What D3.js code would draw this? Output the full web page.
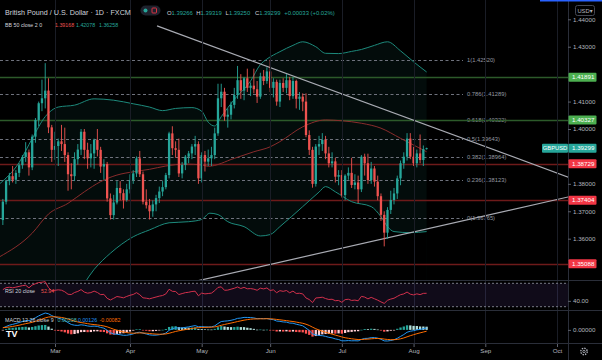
<!DOCTYPE html>
<html><head><meta charset="utf-8">
<script src="https://cdn.jsdelivr.net/npm/d3@7"></script>
<style>html,body{margin:0;padding:0;background:#000;}svg{display:block;}text{font-family:"Liberation Sans","DejaVu Sans",Arial,sans-serif;}</style>
</head><body><svg id="c" width="602" height="360"></svg>
<script>
// ---------------- DATA ----------------
const firstDay = "2021-02-05";   // first candle shown
const lastAxisDay = "2021-10-29";
const opens = [1.3668,1.3735,1.3810,1.3828,1.3815,1.3840,1.3868,1.3898,1.3915,1.3860,1.3972,1.4033,1.4094,1.4112,1.4140,1.4006,
1.3924,1.3938,1.3955,1.3945,1.3905,1.3835,1.3828,1.3890,1.3925,1.3990,1.3924,1.3893,1.3911,1.3960,1.3924,1.3863,1.3872,1.3747,1.3686,1.3732,1.3785,1.3766,1.3741,
1.3780,1.3814,1.3838,1.3893,1.3835,1.3735,1.3722,1.3700,1.3725,1.3748,1.3772,1.3788,1.3832,1.3984,1.3930,1.3924,1.3838,1.3869,1.3899,1.3911,1.3936,1.3945,
1.3820,1.3905,1.3881,1.3893,1.3905,1.3984,1.4112,1.4136,1.4045,1.4052,1.4088,1.4124,1.4178,1.4140,1.4185,1.4150,1.4158,1.4145,1.4118,1.4192,1.4175,
1.4210,1.4150,1.4172,1.4100,1.4168,1.4150,1.4178,1.4120,1.4175,1.4110,1.4118,1.4100,1.3978,1.3924,1.3800,1.3936,1.3945,1.3960,1.3911,1.3875,1.3882,1.3826,
1.3832,1.3759,1.3830,1.3840,1.3796,1.3805,1.3780,1.3899,1.3875,1.3814,1.3856,1.3808,1.3755,1.3687,1.3622,1.3705,1.3741,1.3765,1.3820,1.3875,1.3899,1.3965,
1.3899,1.3875,1.3911,1.3887,1.39266];
const highs = [1.3745,1.3815,1.3840,1.3865,1.3850,1.3875,1.3905,1.3952,1.3925,1.3980,1.4040,1.4100,1.4180,1.4240,1.4185,1.4015,
1.3990,1.3965,1.4015,1.4005,1.3915,1.3875,1.3915,1.3945,1.4000,1.4000,1.3950,1.3945,1.3965,1.4000,1.3935,1.3890,1.3880,1.3765,1.3760,1.3810,1.3810,1.3780,1.3800,
1.3835,1.3850,1.3900,1.3920,1.3845,1.3780,1.3745,1.3740,1.3760,1.3790,1.3810,1.3840,1.3990,1.4010,1.3955,1.3965,1.3880,1.3905,1.3920,1.3945,1.3975,1.3955,
1.3915,1.3920,1.3925,1.3935,1.4005,1.4165,1.4165,1.4150,1.4075,1.4100,1.4150,1.4230,1.4200,1.4190,1.4220,1.4170,1.4220,1.4175,1.4205,1.4215,1.4225,
1.4252,1.4185,1.4180,1.4180,1.4185,1.4200,1.4190,1.4190,1.4180,1.4135,1.4130,1.4130,1.3995,1.3935,1.3945,1.3975,1.3985,1.3975,1.3935,1.3915,1.3895,1.3850,
1.3850,1.3835,1.3860,1.3895,1.3835,1.3830,1.3905,1.3910,1.3910,1.3880,1.3865,1.3830,1.3765,1.3700,1.3715,1.3775,1.3785,1.3830,1.3885,1.3915,1.3985,1.3985,
1.3935,1.3925,1.3980,1.3940,1.39319];
const lows = [1.3650,1.3725,1.3795,1.3805,1.3800,1.3825,1.3855,1.3880,1.3830,1.3850,1.3950,1.4010,1.4065,1.4075,1.3985,1.3880,
1.3888,1.3865,1.3920,1.3880,1.3775,1.3780,1.3810,1.3870,1.3905,1.3890,1.3855,1.3860,1.3855,1.3900,1.3840,1.3815,1.3735,1.3670,1.3670,1.3725,1.3740,1.3710,1.3735,
1.3765,1.3800,1.3825,1.3825,1.3725,1.3710,1.3670,1.3680,1.3700,1.3730,1.3755,1.3780,1.3820,1.3905,1.3895,1.3825,1.3820,1.3850,1.3875,1.3890,1.3905,1.3800,
1.3805,1.3845,1.3865,1.3865,1.3890,1.3975,1.4080,1.4030,1.4005,1.4035,1.4075,1.4110,1.4110,1.4105,1.4135,1.4120,1.4130,1.4095,1.4110,1.4160,1.4165,
1.4135,1.4115,1.4085,1.4080,1.4135,1.4130,1.4105,1.4110,1.4075,1.4070,1.4065,1.3970,1.3905,1.3786,1.3790,1.3905,1.3920,1.3890,1.3860,1.3860,1.3805,1.3795,
1.3750,1.3740,1.3815,1.3785,1.3780,1.3730,1.3770,1.3830,1.3800,1.3800,1.3790,1.3740,1.3665,1.3572,1.3600,1.3690,1.3725,1.3745,1.3795,1.3855,1.3885,1.3890,
1.3865,1.3860,1.3875,1.3865,1.39250];
const closes = [1.3735,1.3810,1.3828,1.3815,1.3840,1.3868,1.3898,1.3915,1.3860,1.3972,1.4033,1.4094,1.4112,1.4140,1.4006,1.3924,
1.3938,1.3955,1.3945,1.3905,1.3835,1.3828,1.3890,1.3925,1.3990,1.3924,1.3893,1.3911,1.3960,1.3924,1.3863,1.3872,1.3747,1.3686,1.3732,1.3785,1.3766,1.3741,1.3780,
1.3814,1.3838,1.3893,1.3835,1.3735,1.3722,1.3700,1.3725,1.3748,1.3772,1.3788,1.3832,1.3984,1.3930,1.3924,1.3838,1.3869,1.3899,1.3911,1.3936,1.3945,1.3820,
1.3905,1.3881,1.3893,1.3905,1.3984,1.4112,1.4136,1.4045,1.4052,1.4088,1.4124,1.4178,1.4140,1.4185,1.4150,1.4158,1.4145,1.4118,1.4192,1.4175,1.4210,
1.4150,1.4172,1.4100,1.4168,1.4150,1.4178,1.4120,1.4175,1.4110,1.4118,1.4100,1.3978,1.3924,1.3800,1.3936,1.3945,1.3960,1.3911,1.3875,1.3882,1.3826,1.3832,
1.3759,1.3830,1.3840,1.3796,1.3805,1.3780,1.3899,1.3875,1.3814,1.3856,1.3808,1.3755,1.3687,1.3622,1.3705,1.3741,1.3765,1.3820,1.3875,1.3899,1.3965,1.3899,
1.3875,1.3911,1.3887,1.39266,1.39299];

// Bollinger Bands (50, 2): [bar number, price]
const bbUpper = [[-1,1.3800],[5,1.3878],[9,1.3965],[13,1.4045],[17,1.4080],[22,1.4087],[28,1.4110],[34,1.4105],[40,1.4092],[45,1.4080],[49,1.4067],[53,1.4075],[58,1.4078],[61,1.4065],[63,1.4025],[65,1.4011],[67,1.4045],[71,1.4108],[76,1.4175],[79,1.4235],[81,1.4255],[85,1.4282],[89,1.4305],[92,1.4318],[96,1.4300],[99,1.4276],[103,1.4275],[107,1.4283],[110,1.4290],[114,1.4305],[118,1.4318],[122,1.4285],[126,1.4245],[130,1.4208]];
const bbBasis = [[-1,1.3534],[9,1.3620],[14,1.3690],[20,1.3729],[25,1.3771],[30,1.3808],[35,1.3832],[40,1.3844],[45,1.3853],[50,1.3865],[56,1.3872],[61,1.3869],[63,1.3864],[71,1.3893],[77,1.3917],[82,1.3935],[85,1.3954],[92,1.4008],[99,1.4033],[104,1.4030],[110,1.4021],[116,1.4003],[122,1.3966],[130,1.3917]];
const bbLower = [[-1,1.3255],[9,1.3265],[16,1.3320],[22,1.3385],[28,1.3488],[33,1.3547],[40,1.3607],[45,1.3632],[51,1.3658],[57,1.3662],[61,1.3670],[63.5,1.3693],[66,1.3688],[69,1.3662],[74,1.3644],[79,1.3610],[82,1.3615],[85,1.3644],[92,1.3717],[97,1.3770],[99,1.3790],[102,1.3771],[107,1.3735],[113,1.3717],[116,1.3680],[118,1.3644],[120,1.3626],[125,1.3622],[130,1.3626]];

// drawings
const trendUpper = [[47.3,1.4376],[115.7,1.4077]];
const trendLower = [[78.9,1.3498],[164.8,1.3729]];
const fibRatios = ["1","0.786","0.618","0.5","0.382","0.236","0"];
const fibPrices = [1.42520,1.41289,1.40322,1.39643,1.38964,1.38123,1.36765];
const hLevels = [1.41891,1.40327,1.38729,1.37404,1.35088];

// indicator starting state
const macdSeed = {fast:1.3672, slow:1.3664, signal:0.0015};
const rsiSeed = {gain:0.0024, loss:0.0019};

// legend texts
const title = "British Pound / U.S. Dollar · 1D · FXCM";
const ohlcLabels = ["O","H","L","C"];
const ohlcValues = ["1.39266","1.39319","1.39250","1.39299"];
const changeText = "+0.00033 (+0.02%)";
const bbLegend = ["1.39168","1.42078","1.36258"];
const rsiLegend = "52.94";
const macdLegend = ["0.00208","0.00126","-0.00082"];
const symbol = "GBPUSD";

// ---------------- CHART ----------------
const W=602,H=360, PR=568, mainBot=280;
const svg=d3.select("#c");
const parse=d3.timeParse("%Y-%m-%d");
const days=d3.timeDay.range(parse(firstDay),parse(lastAxisDay)).filter(d=>d.getDay()%6!==0);
const x=d3.scaleLinear().domain([16,170]).range([55,557]);
const y=d3.scaleLinear().domain([1.44,1.36]).range([19.3,238.7]);
const yR=d3.scaleLinear().domain([70,30]).range([283.3,306.7]);

svg.append("rect").attr("width",W).attr("height",H).attr("fill","#000");
const defs=svg.append("defs");
defs.append("clipPath").attr("id","cm").append("rect").attr("x",0).attr("y",0).attr("width",PR).attr("height",mainBot);
defs.append("clipPath").attr("id","cr").append("rect").attr("x",0).attr("y",281).attr("width",PR).attr("height",29);
defs.append("clipPath").attr("id","cd").append("rect").attr("x",0).attr("y",311).attr("width",PR).attr("height",32);

const main=svg.append("g").attr("clip-path","url(#cm)");
const curve=d3.curveMonotoneX;
// BB fill
main.append("path").datum(bbUpper).attr("fill","rgba(38,166,154,0.07)")
  .attr("d",d3.area().curve(curve).x(d=>x(d[0])).y0(mainBot+5).y1(d=>y(d[1])));
main.append("path").datum(bbLower).attr("fill","#000")
  .attr("d",d3.area().curve(curve).x(d=>x(d[0])).y0(mainBot+5).y1(d=>y(d[1])));

// month grid
const monthKs=d3.range(1,days.length).filter(k=>days[k].getMonth()!==days[k-1].getMonth()&&x(k)<PR-4);
svg.append("g").selectAll("line").data(monthKs).join("line")
  .attr("x1",k=>Math.round(x(k))+0.5).attr("x2",k=>Math.round(x(k))+0.5).attr("y1",0).attr("y2",343)
  .attr("stroke","#1a1d26").attr("stroke-width",1);

// fib lines
const fibG=main.append("g");
fibPrices.forEach((p,i)=>{
  fibG.append("line").attr("x1",0).attr("x2",463).attr("y1",Math.round(y(p))+0.5).attr("y2",Math.round(y(p))+0.5)
    .attr("stroke","#6f727d").attr("stroke-dasharray","3,2.5").attr("stroke-width",1);
  fibG.append("text").attr("x",467).attr("y",y(p)+2).attr("fill","#9598a1").attr("font-size",5.8)
    .text(`${fibRatios[i]}(${p.toFixed(5)})`);
});
// horizontal levels
const lastClose=closes[closes.length-1];
const levelColor=p=>p>lastClose?"#2c5a2a":"#6e1a1a";
main.selectAll("line.h").data(hLevels).join("line").attr("class","h")
  .attr("x1",0).attr("x2",PR).attr("y1",p=>Math.round(y(p))+0.5).attr("y2",p=>Math.round(y(p))+0.5)
  .attr("stroke",levelColor).attr("stroke-width",1.3);

// BB lines
const lineG=d3.line().curve(curve).x(d=>x(d[0])).y(d=>y(d[1]));
main.append("path").datum(bbUpper).attr("fill","none").attr("stroke","#1d8a7c").attr("stroke-width",1).attr("d",lineG);
main.append("path").datum(bbLower).attr("fill","none").attr("stroke","#1d8a7c").attr("stroke-width",1).attr("d",lineG);
main.append("path").datum(bbBasis).attr("fill","none").attr("stroke","#8a2c2c").attr("stroke-width",1).attr("d",lineG);

// trend lines
function extend(pts,k0,k1){const [a,b]=pts;const s=(b[1]-a[1])/(b[0]-a[0]);return [[k0,a[1]+s*(k0-a[0])],[k1,a[1]+s*(k1-a[0])]];}
main.append("path").datum(extend(trendUpper,trendUpper[0][0],190)).attr("fill","none").attr("stroke","#a9abb3").attr("stroke-width",1.2).attr("d",d3.line().x(d=>x(d[0])).y(d=>y(d[1])));
main.append("path").datum(extend(trendLower,40,190)).attr("fill","none").attr("stroke","#a9abb3").attr("stroke-width",1.2).attr("d",d3.line().x(d=>x(d[0])).y(d=>y(d[1])));

// candles
const up="#26a69a", dn="#ef5350";
const cg=main.append("g");
closes.forEach((c,k)=>{
  const o=opens[k], col=c>=o?up:dn, cx=x(k);
  cg.append("line").attr("x1",cx).attr("x2",cx).attr("y1",y(highs[k])).attr("y2",y(lows[k])).attr("stroke",col).attr("stroke-width",0.9);
  const t=y(Math.max(o,c)), b=y(Math.min(o,c));
  cg.append("rect").attr("x",cx-1.15).attr("width",2.3).attr("y",t).attr("height",Math.max(0.8,b-t)).attr("fill",col);
});

// ---------------- RSI ----------------
const rsi=[]; {let ag=rsiSeed.gain, al=rsiSeed.loss, prev=opens[0];
 closes.forEach(c=>{const ch=c-prev;prev=c;ag=(ag*19+Math.max(ch,0))/20;al=(al*19+Math.max(-ch,0))/20;rsi.push(100-100/(1+ag/al));});}
const rg=svg.append("g").attr("clip-path","url(#cr)");
rg.append("rect").attr("x",0).attr("width",PR).attr("y",yR(70)).attr("height",yR(30)-yR(70)).attr("fill","rgba(126,87,194,0.13)");
[70,30].forEach(v=>rg.append("line").attr("x1",0).attr("x2",PR).attr("y1",yR(v)).attr("y2",yR(v)).attr("stroke","#787b86").attr("stroke-dasharray","2,2"));
rg.append("path").datum(rsi).attr("fill","none").attr("stroke","#d3304c").attr("stroke-width",1)
  .attr("d",d3.line().x((d,k)=>x(k)).y(d=>yR(d)));

// ---------------- MACD ----------------
const macd=[],signal=[],hist=[]; {let f=macdSeed.fast,s=macdSeed.slow,sg=macdSeed.signal;
 closes.forEach(c=>{f+=(c-f)*2/13;s+=(c-s)*2/27;const m=f-s;sg+=(m-sg)*2/10;macd.push(m);signal.push(sg);hist.push(m-sg);});}
const yM=d3.scaleLinear().domain(d3.extent([...macd,...signal,...hist])).range([341,313]);
const mg=svg.append("g").attr("clip-path","url(#cd)");
mg.selectAll("rect").data(hist).join("rect")
  .attr("x",(d,k)=>x(k)-1.15).attr("width",2.3)
  .attr("y",d=>Math.min(yM(d),yM(0))).attr("height",d=>Math.max(0.6,Math.abs(yM(d)-yM(0))))
  .attr("fill",(d,k)=>{const p=k?hist[k-1]:d; return d>=0?(d>p?"#26a69a":"#b2dfdb"):(d<p?"#ff5252":"#ffcdd2");});
mg.append("path").datum(macd).attr("fill","none").attr("stroke","#2196f3").attr("stroke-width",1).attr("d",d3.line().x((d,k)=>x(k)).y(d=>yM(d)));
mg.append("path").datum(signal).attr("fill","none").attr("stroke","#ff6d00").attr("stroke-width",1).attr("d",d3.line().x((d,k)=>x(k)).y(d=>yM(d)));

// ---------------- separators ----------------
[280.5,310.5,343.5].forEach(v=>svg.append("line").attr("x1",0).attr("x2",W).attr("y1",v).attr("y2",v).attr("stroke","#2a2e39"));
svg.append("line").attr("x1",PR+0.5).attr("x2",PR+0.5).attr("y1",0).attr("y2",H).attr("stroke","#2a2e39");
svg.append("line").attr("x1",540).attr("x2",W).attr("y1",0.75).attr("y2",0.75).attr("stroke","#2962ff").attr("stroke-width",1.5);

// ---------------- axes ----------------
const axisTxt="#b2b5be";
const tags=[...hLevels.map(p=>({p,col:p>lastClose?"#4caf50":"#f23645"})),{p:lastClose,col:"#26a69a"}];
const pTicks=d3.range(135,145).map(v=>v/100).filter(t=>tags.every(g=>Math.abs(y(t)-y(g.p))>8)&&y(t)>6&&y(t)<275);
const ax=svg.append("g").attr("transform",`translate(${PR},0)`).call(d3.axisRight(y).tickValues(pTicks).tickSize(3).tickPadding(2).tickFormat(d3.format(".5f")));
ax.select(".domain").remove();
ax.selectAll("line").attr("stroke","#5d606b");
ax.selectAll("text").attr("fill",axisTxt).attr("font-size",6.2).attr("font-family","Liberation Sans");
const axR=svg.append("g").attr("transform",`translate(${PR},0)`).call(d3.axisRight(yR).tickValues([40]).tickSize(3).tickPadding(2).tickFormat(d3.format(".2f")));
const axM=svg.append("g").attr("transform",`translate(${PR},0)`).call(d3.axisRight(yM).tickValues([0]).tickSize(3).tickPadding(2).tickFormat(d3.format(".5f")));
[axR,axM].forEach(a=>{a.select(".domain").remove();a.selectAll("line").attr("stroke","#5d606b");a.selectAll("text").attr("fill",axisTxt).attr("font-size",6.2).attr("font-family","Liberation Sans");});
const axX=svg.append("g").attr("transform","translate(0,344)").call(d3.axisBottom(x).tickValues(monthKs).tickSize(3).tickPadding(2).tickFormat(k=>d3.timeFormat("%b")(days[k])));
axX.select(".domain").remove();
axX.selectAll("line").attr("stroke","#5d606b");
axX.selectAll("text").attr("fill",axisTxt).attr("font-size",6.2).attr("font-family","Liberation Sans");

// price tags
tags.forEach(g=>{const cy=y(g.p);
  svg.append("rect").attr("x",PR+0.5).attr("y",cy-4.5).attr("width",28).attr("height",9).attr("rx",1).attr("fill",g.col);
  svg.append("text").attr("x",PR+4).attr("y",cy+2.2).attr("fill","#fff").attr("font-size",6.2).text(g.p.toFixed(5));
});
{const cy=y(lastClose);
 svg.append("rect").attr("x",542).attr("y",cy-4.5).attr("width",26).attr("height",9).attr("rx",1).attr("fill","#26a69a");
 svg.append("text").attr("x",555).attr("y",cy+2.2).attr("text-anchor","middle").attr("fill","#fff").attr("font-size",5.8).text(symbol);}

// USD box + gear
svg.append("rect").attr("x",575.5).attr("y",5.5).attr("width",19).attr("height",10).attr("rx",2).attr("fill","#000").attr("stroke","#434651");
svg.append("text").attr("x",585).attr("y",12.6).attr("text-anchor","middle").attr("fill",axisTxt).attr("font-size",5.8).text("USD▾");
svg.append("circle").attr("cx",584).attr("cy",351.5).attr("r",3.2).attr("fill","none").attr("stroke",axisTxt).attr("stroke-width",1.4).attr("stroke-dasharray","1.4,1.1");
svg.append("circle").attr("cx",584).attr("cy",351.5).attr("r",1.2).attr("fill","none").attr("stroke",axisTxt).attr("stroke-width",0.8);

// ---------------- legends ----------------
const txt="#d1d4dc";
svg.append("text").attr("x",5).attr("y",15).attr("fill",txt).attr("font-size",7.2).text(title);
svg.append("rect").attr("x",140.5).attr("y",5.5).attr("width",20).attr("height",10).attr("rx",5).attr("fill","#1e222d");
svg.append("circle").attr("cx",145.5).attr("cy",10.5).attr("r",2).attr("fill","#26a69a");
svg.append("rect").attr("x",152).attr("y",8).attr("width",4.5).attr("height",5).attr("rx",0.8).attr("fill","none").attr("stroke","#f23645").attr("stroke-width",0.9);
const ohlcT=svg.append("text").attr("y",15).attr("font-size",5.9);
ohlcLabels.forEach((l,i)=>{ohlcT.append("tspan").attr("x",167+i*29.3).attr("fill",txt).text(l);ohlcT.append("tspan").attr("fill","#26a69a").text(ohlcValues[i]);});
ohlcT.append("tspan").attr("x",167+4*29.3).attr("fill","#26a69a").text(changeText);

const small=5.3;
const bbT=svg.append("text").attr("x",5).attr("y",27).attr("font-size",small);
bbT.append("tspan").attr("fill",txt).text("BB 50 close 2 0");
bbT.append("tspan").attr("x",55).attr("fill","#ef5350").text(bbLegend[0]);
bbT.append("tspan").attr("x",76).attr("fill","#26a69a").text(bbLegend[1]);
bbT.append("tspan").attr("x",99).attr("fill","#26a69a").text(bbLegend[2]);

const rT=svg.append("text").attr("x",5).attr("y",292.8).attr("font-size",small);
rT.append("tspan").attr("fill",txt).text("RSI 20 close");
rT.append("tspan").attr("x",41).attr("fill","#ef5350").text(rsiLegend);

const mT=svg.append("text").attr("x",5).attr("y",322.3).attr("font-size",small);
mT.append("tspan").attr("fill",txt).text("MACD 12 26 close 9");
mT.append("tspan").attr("x",57.5).attr("fill","#4db6ac").text(macdLegend[0]);
mT.append("tspan").attr("x",78).attr("fill","#2196f3").text(macdLegend[1]);
mT.append("tspan").attr("x",99.5).attr("fill","#ff6d00").text(macdLegend[2]);
svg.append("text").attr("x",6).attr("y",336.5).attr("fill","#fff").attr("font-size",9).attr("font-weight","bold").text("TV");
</script></body></html>
